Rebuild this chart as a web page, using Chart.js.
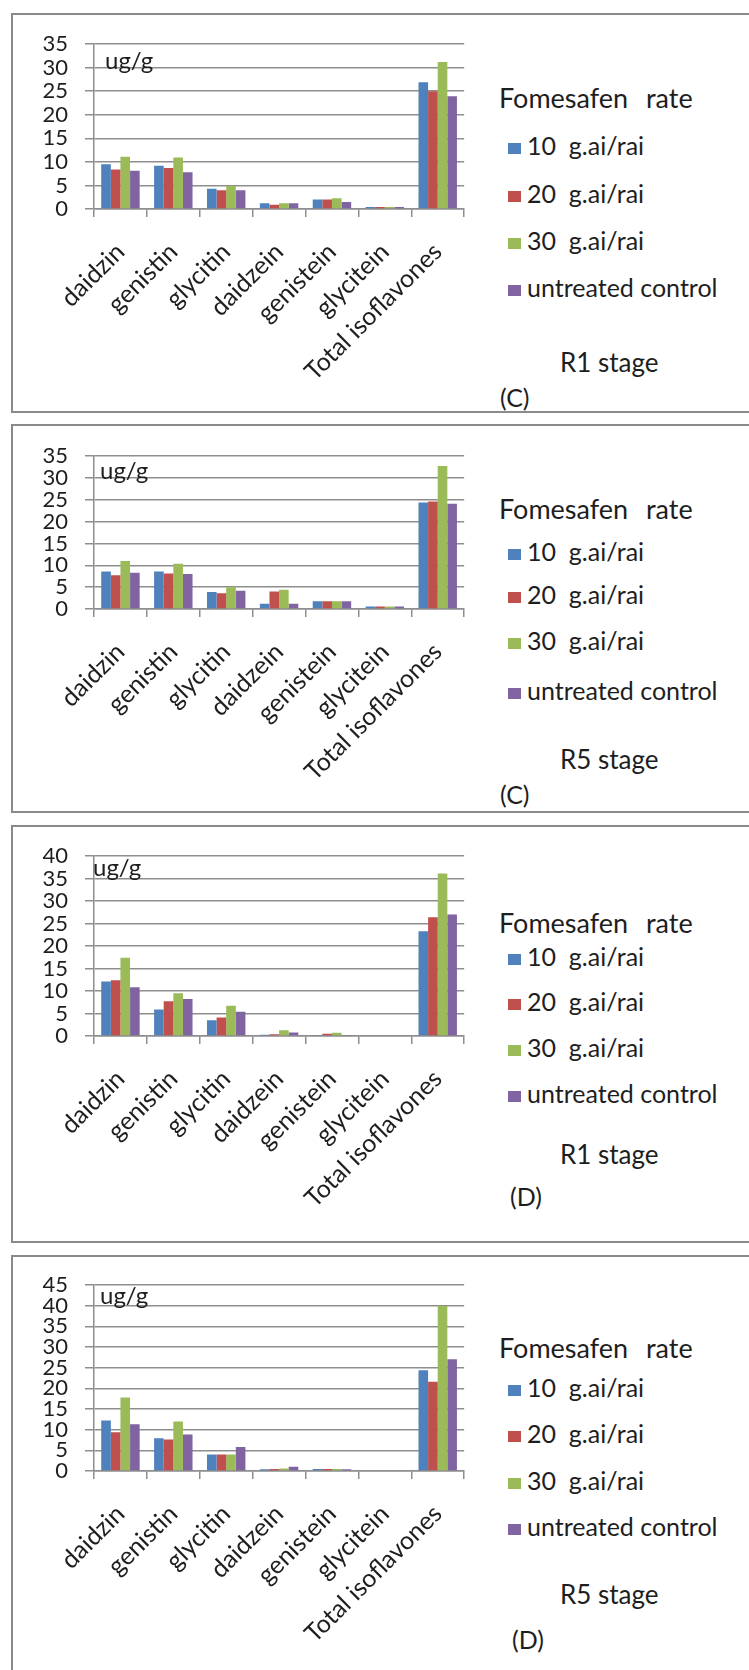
<!DOCTYPE html>
<html>
<head>
<meta charset="utf-8">
<script src="https://cdn.jsdelivr.net/npm/chart.js@4"></script>
<style>
  html, body { margin: 0; padding: 0; background: #fff; }
  #page { position: relative; width: 749px; height: 1670px; overflow: hidden; font-family: Lato, "Open Sans", sans-serif; color: #1e1e1e; }
  .panel { position: absolute; left: 11px; width: 780px; border: 2px solid #8a8a8a; box-sizing: border-box; }
  .holder { position: absolute; left: 0; width: 480px; }
  .txt { position: absolute; white-space: pre; line-height: 30px; height: 30px; }
  .sw { display: inline-block; width: 13px; height: 11px; margin-right: 6px; vertical-align: 1px; }
</style>
</head>
<body>
<div id="page"></div>
<script>
// Chart data
const categories = ['daidzin', 'genistin', 'glycitin', 'daidzein', 'genistein', 'glycitein', 'Total isoflavones'];
const seriesNames = ['10  g.ai/rai', '20  g.ai/rai', '30  g.ai/rai', 'untreated control'];
const seriesColors = ['#4f81bd', '#c0504d', '#9bbb59', '#8064a2'];

// (C) R1 stage
const cR1_10 = [9.5, 9.2, 4.3, 1.2, 2.0, 0.4, 26.9];
const cR1_20 = [8.4, 8.7, 4.0, 0.9, 2.0, 0.4, 25.0];
const cR1_30 = [11.1, 10.9, 4.9, 1.2, 2.3, 0.4, 31.2];
const cR1_ctrl = [8.1, 7.8, 4.0, 1.2, 1.5, 0.4, 23.9];

// (C) R5 stage
const cR5_10 = [8.6, 8.6, 3.9, 1.2, 1.8, 0.6, 24.35];
const cR5_20 = [7.7, 8.1, 3.6, 4.0, 1.8, 0.6, 24.6];
const cR5_30 = [11.0, 10.35, 4.95, 4.4, 1.8, 0.6, 32.7];
const cR5_ctrl = [8.3, 8.0, 4.2, 1.2, 1.8, 0.6, 24.05];

// (D) R1 stage
const dR1_10 = [12.1, 5.9, 3.5, 0.3, 0.1, 0, 23.3];
const dR1_20 = [12.4, 7.7, 4.1, 0.4, 0.5, 0, 26.4];
const dR1_30 = [17.4, 9.5, 6.7, 1.3, 0.7, 0, 36.1];
const dR1_ctrl = [10.85, 8.2, 5.4, 0.8, 0.2, 0, 27.0];

// (D) R5 stage
const dR5_10 = [12.2, 7.9, 4.0, 0.4, 0.5, 0, 24.4];
const dR5_20 = [9.4, 7.6, 4.0, 0.5, 0.5, 0, 21.6];
const dR5_30 = [17.8, 12.0, 4.0, 0.6, 0.5, 0, 39.9];
const dR5_ctrl = [11.3, 8.85, 5.8, 1.0, 0.4, 0, 27.05];

const yMaxes = [35, 35, 40, 45];
const stageLabels = ['R1 stage', 'R5 stage', 'R1 stage', 'R5 stage'];
const panelLetters = ['(C)', '(C)', '(D)', '(D)'];
const unitLabel = 'ug/g';
const legendTitle = 'Fomesafen  rate';

const panelSeries = [
    [cR1_10, cR1_20, cR1_30, cR1_ctrl],
    [cR5_10, cR5_20, cR5_30, cR5_ctrl],
    [dR1_10, dR1_20, dR1_30, dR1_ctrl],
    [dR5_10, dR5_20, dR5_30, dR5_ctrl]
];

// layout of each framed panel (page pixels)
const layout = [
    { top: 13, height: 400, padTop: 31, plotH: 165, unit: [105, 47], title: 85, items: [132, 180, 227, 274], stage: 349, letter: 384, letterX: 500 },
    { top: 424, height: 389, padTop: 32, plotH: 153, unit: [100, 46], title: 85, items: [127, 170, 216, 266], stage: 335, letter: 370, letterX: 500 },
    { top: 825, height: 418, padTop: 31, plotH: 180, unit: [93, 42], title: 98, items: [131, 176, 222, 268], stage: 329, letter: 371, letterX: 510 },
    { top: 1255, height: 440, padTop: 30, plotH: 186, unit: [100, 40], title: 93, items: [132, 178, 225, 271], stage: 339, letter: 384, letterX: 512 }
];

const page = document.getElementById('page');
const gridColor = '#8e8e8e';

function addText(text, x, yc, size) {
    const d = document.createElement('div');
    d.className = 'txt';
    d.style.left = x + 'px';
    d.style.top = (yc - 15) + 'px';
    d.style.fontSize = size + 'px';
    d.textContent = text;
    page.appendChild(d);
    return d;
}

layout.forEach(function(L, p) {
    // frame
    const frame = document.createElement('div');
    frame.className = 'panel';
    frame.style.top = L.top + 'px';
    frame.style.height = L.height + 'px';
    page.appendChild(frame);

    // canvas
    const holder = document.createElement('div');
    holder.className = 'holder';
    holder.style.top = L.top + 'px';
    holder.style.height = L.height + 'px';
    const canvas = document.createElement('canvas');
    canvas.width = 480;
    canvas.height = L.height;
    holder.appendChild(canvas);
    page.appendChild(holder);

    const xAxisH = L.height - L.padTop - L.plotH;

    new Chart(canvas.getContext('2d'), {
        type: 'bar',
        data: {
            labels: categories,
            datasets: panelSeries[p].map(function(vals, i) {
                return {
                    label: seriesNames[i],
                    data: vals,
                    backgroundColor: seriesColors[i],
                    borderWidth: 0,
                    categoryPercentage: 0.727,
                    barPercentage: 1.0
                };
            })
        },
        options: {
            responsive: false,
            animation: false,
            layout: { padding: { top: L.padTop, right: 15, bottom: 0, left: 0 } },
            plugins: {
                legend: { display: false },
                tooltip: { enabled: false }
            },
            scales: {
                x: {
                    afterFit: function(s) { s.height = xAxisH; },
                    grid: { drawOnChartArea: false, drawTicks: true, tickLength: 8, color: gridColor, lineWidth: 1.5, offset: true },
                    border: { display: true, color: gridColor, width: 1.5 },
                    ticks: {
                        autoSkip: false, minRotation: 45, maxRotation: 45, padding: 20,
                        color: '#1e1e1e', font: { family: 'Lato', size: 25 }
                    }
                },
                y: {
                    min: 0,
                    max: yMaxes[p],
                    afterFit: function(s) { s.width = 94; },
                    grid: { color: gridColor, lineWidth: 1.5, tickLength: 9 },
                    border: { display: true, color: gridColor, width: 1.5 },
                    ticks: {
                        stepSize: 5, padding: 17, autoSkip: false,
                        color: '#1e1e1e', font: { family: 'Lato', size: 22, lineHeight: 1 }
                    }
                }
            }
        }
    });

    // texts
    addText(unitLabel, L.unit[0], L.top + L.unit[1], 24);
    const t = addText(legendTitle, 499, L.top + L.title, 27);
    t.style.wordSpacing = '2px';
    seriesNames.forEach(function(name, i) {
        const d = addText('', 508, L.top + L.items[i], 25);
        const sw = document.createElement('span');
        sw.className = 'sw';
        sw.style.background = seriesColors[i];
        d.appendChild(sw);
        d.appendChild(document.createTextNode(name));
    });
    addText(stageLabels[p], 560, L.top + L.stage, 26);
    addText(panelLetters[p], L.letterX, L.top + L.letter, 25);
});
</script>
</body>
</html>
